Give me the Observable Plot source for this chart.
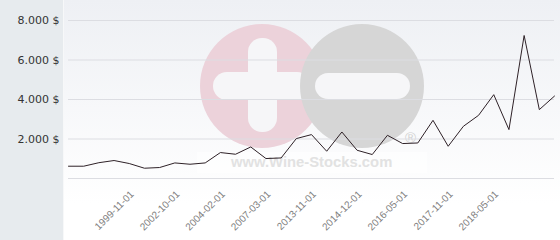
<!DOCTYPE html>
<html><head><meta charset="utf-8">
<script src="https://cdn.jsdelivr.net/npm/d3@7"></script>
<script src="https://cdn.jsdelivr.net/npm/@observablehq/plot@0.6"></script>
<style>body{margin:0;background:#fff;overflow:hidden}</style>
</head><body><div id="chart"></div>
<script>
const prices = [622,622,800,910,758,520,556,788,722,788,1314,1228,1597,1011,1041,2021,2223,1380,2355,1430,1213,2188,1769,1799,2946,1632,2643,3199,4245,2476,7241,3487,4174];
// Which observations carry a date label, and the labels
const tickIndex = [4,7,10,13,16,19,22,25,28];
const tickLabels = ["1999-11-01","2002-10-01","2004-02-01","2007-03-01","2013-11-01","2014-12-01","2016-05-01","2017-11-01","2018-05-01"];
const yTicks = [2000,4000,6000,8000];
const gridValues = [0,2000,4000,6000,8000];
const watermarkText = "www.Wine-Stocks.com";

const data = prices.map((v, i) => ({i, v}));
const fmtY = d => d3.format(",")(d).replace(/,/g, ".") + " $";

const chart = Plot.plot({
  width: 560, height: 240,
  marginLeft: 68, marginRight: 6, marginTop: 20, marginBottom: 62,
  style: {background: "transparent", fontFamily: "DejaVu Sans", overflow: "visible"},
  x: {type: "linear", domain: [0, prices.length - 1], axis: null},
  y: {domain: [0, 8000], axis: null},
  marks: [
    Plot.ruleY(gridValues, {stroke: "#dcdde2", strokeWidth: 1}),
    Plot.axisY(yTicks, {tickSize: 0, tickPadding: 9, tickFormat: fmtY, fontSize: 11, color: "#333", label: null}),
    Plot.axisX(tickIndex, {tickSize: 0, tickPadding: 14, dx: 3, tickRotate: -45, label: null,
      tickFormat: i => tickLabels[tickIndex.indexOf(i)], fontSize: 10, color: "#808080",
      fontFamily: "Liberation Sans"}),
    Plot.line(data, {x: "i", y: "v", stroke: "#2e2127", strokeWidth: 1})
  ]
});
document.getElementById("chart").appendChild(chart);

// background panels + watermark, behind the marks
const svg = d3.select(chart);
const defs = svg.insert("defs", ":first-child");
const grad = defs.append("linearGradient").attr("id", "bg").attr("x1", 0).attr("x2", 0).attr("y1", 0).attr("y2", 1);
grad.append("stop").attr("offset", "0%").attr("stop-color", "#eef0f4");
grad.append("stop").attr("offset", "85%").attr("stop-color", "#ffffff");
const bg = svg.insert("g", "defs + *").attr("text-anchor", "start");
bg.append("rect").attr("x", 0).attr("y", 0).attr("width", 63).attr("height", 240).attr("fill", "#e7ebee");
bg.append("rect").attr("x", 63).attr("y", 0).attr("width", 497).attr("height", 240).attr("fill", "url(#bg)");
bg.append("rect").attr("x", 63).attr("y", 0).attr("width", 1).attr("height", 240).attr("fill", "#f7f8f9");
// watermark
const wm = bg.append("g");
wm.append("circle").attr("cx", 262).attr("cy", 86).attr("r", 62).attr("fill", "#ecd2da");
wm.append("rect").attr("x", 248).attr("y", 38).attr("width", 29).attr("height", 94).attr("rx", 14).attr("fill", "#f6f6f8");
wm.append("rect").attr("x", 213).attr("y", 72).attr("width", 98).attr("height", 28).attr("rx", 14).attr("fill", "#f6f6f8");
wm.append("circle").attr("cx", 362).attr("cy", 86).attr("r", 62).attr("fill", "#d6d6d6");
wm.append("rect").attr("x", 315).attr("y", 73).attr("width", 95).attr("height", 26).attr("rx", 13).attr("fill", "#f6f6f8");
wm.append("rect").attr("x", 197).attr("y", 152).attr("width", 230).attr("height", 21).attr("fill", "#ffffff").attr("opacity", 0.55);
wm.append("text").attr("x", 231).attr("y", 167).attr("font-family", "Liberation Sans").attr("font-weight", "bold")
  .attr("font-size", 14.8).attr("fill", "#e2e2e2").text(watermarkText);
wm.append("text").attr("x", 405).attr("y", 143).attr("font-family", "Liberation Sans")
  .attr("font-size", 15).attr("fill", "#d2d2d2").text("®");
</script>
</body></html>
